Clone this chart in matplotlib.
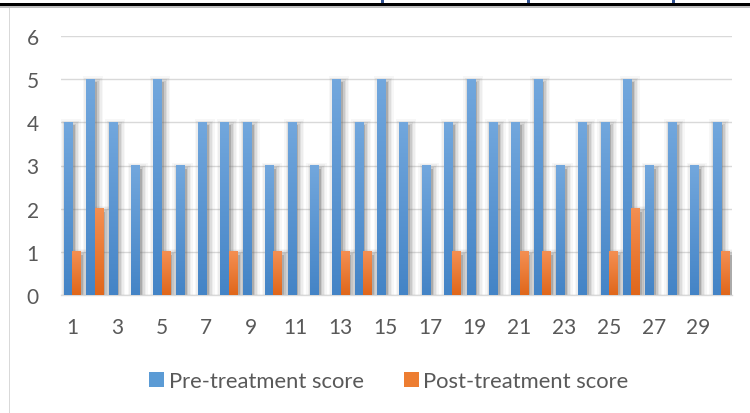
import numpy as np
import matplotlib
matplotlib.use("Agg")
import matplotlib.pyplot as plt
from matplotlib.patches import Patch, Rectangle

plt.rcParams['font.family'] = ['Lato', 'DejaVu Sans']

# scores per patient
patients = list(range(1, 31))
pre_scores = [4, 5, 4, 3, 5, 3, 4, 4, 4, 3, 4, 3, 5, 4, 5,
              4, 3, 4, 5, 4, 4, 5, 3, 4, 4, 5, 3, 4, 3, 4]
post_scores = [1, 2, 0, 0, 1, 0, 0, 1, 0, 1, 0, 0, 1, 1, 0,
               0, 0, 1, 0, 0, 1, 1, 0, 0, 1, 2, 0, 0, 0, 1]
tick_labels = [str(p) for p in patients[::2]]

text_col = '#595959'
grid_col = '#d9d9d9'
blue_top, blue_bot = '#72a7dd', '#4484c6'
orange_top, orange_bot = '#f48f52', '#e0671b'

W, H = 750, 414
fig = plt.figure(figsize=(W / 100, H / 100), dpi=100)
ax = fig.add_axes([61 / W, (H - 296) / H, 671 / W, 259 / H])

x = np.arange(1, 31)
bw = 0.37

# size of one pixel in data units
px = 30 / 671
py = 6 / 259


def shadow(xs, vals):
    # soft grey drop shadow, offset right and down
    for xi, v in zip(xs, vals):
        if v <= 0:
            continue
        for k, a in [(0, 0.36), (1.5, 0.19), (3, 0.12), (4.5, 0.08), (6, 0.05)]:
            ax.add_patch(Rectangle((xi - bw / 2 + 2.5 * px - k * px, -0.1),
                                   bw + 2 * k * px, v - 3 * py + k * py + 0.1,
                                   facecolor='#737373', alpha=a, lw=0, zorder=2))


def gradient_bars(bars, top, bot):
    c0 = np.array(matplotlib.colors.to_rgb(top))
    c1 = np.array(matplotlib.colors.to_rgb(bot))
    t = np.linspace(0, 1, 64)[:, None]
    grad = (c0 * (1 - t) + c1 * t)[:, None, :]
    for b in bars:
        h = b.get_height()
        if h <= 0:
            continue
        x0 = b.get_x()
        ax.imshow(grad, extent=[x0, x0 + b.get_width(), 0, h],
                  aspect='auto', origin='upper', zorder=3.5, interpolation='bilinear')


shadow(x - bw / 2, pre_scores)
shadow(x + bw / 2, post_scores)

bars_pre = ax.bar(x - bw / 2, pre_scores, bw, color='#5b9bd5', zorder=3, lw=0)
bars_post = ax.bar(x + bw / 2, post_scores, bw, color='#ed7d31', zorder=3, lw=0)
gradient_bars(bars_pre, blue_top, blue_bot)
gradient_bars(bars_post, orange_top, orange_bot)
ax.set_xlim(0.5, 30.5)
ax.set_ylim(0, 6)

ax.set_yticks(range(7))
ax.yaxis.grid(True, color=grid_col, lw=1.0)
ax.set_axisbelow(True)
ax.set_xticks(patients[::2])
ax.set_xticklabels(tick_labels)
ax.tick_params(length=0, labelsize=15, labelcolor=text_col)
ax.tick_params(axis='x', pad=16)
ax.tick_params(axis='y', pad=16)
for s in ['top', 'right', 'left']:
    ax.spines[s].set_visible(False)
ax.spines['bottom'].set_color(grid_col)
ax.spines['bottom'].set_linewidth(1.0)

handles = [Patch(facecolor='#5b9bd5', label='Pre-treatment score'),
           Patch(facecolor='#ed7d31', label='Post-treatment score')]
fig.legend(handles=handles, loc='center', bbox_to_anchor=(389 / W, (H - 382) / H),
           ncol=2, frameon=False, fontsize=15.8, labelcolor=text_col,
           handlelength=0.68, handleheight=0.68, handletextpad=0.22, columnspacing=1.8)

# chart frame and the heavy rule above it
fig.add_artist(Rectangle((0, (H - 7) / H), 1, 3.5 / H, transform=fig.transFigure,
                         facecolor='black', lw=0))
fig.add_artist(Rectangle((0, (H - 8.5) / H), 1, 1.5 / H, transform=fig.transFigure,
                         facecolor='#bfbfbf', lw=0))
fig.add_artist(Rectangle((9 / W, 0), 1.2 / W, (H - 8.5) / H, transform=fig.transFigure,
                         facecolor=grid_col, lw=0))
# cut-off heading strokes poking above the rule
for hx in [381, 527, 672]:
    fig.add_artist(Rectangle((hx / W, (H - 3.5) / H), 2.5 / W, 3 / H,
                             transform=fig.transFigure, facecolor='#2f4f8f', lw=0))

fig.savefig('out.png', dpi=100)
